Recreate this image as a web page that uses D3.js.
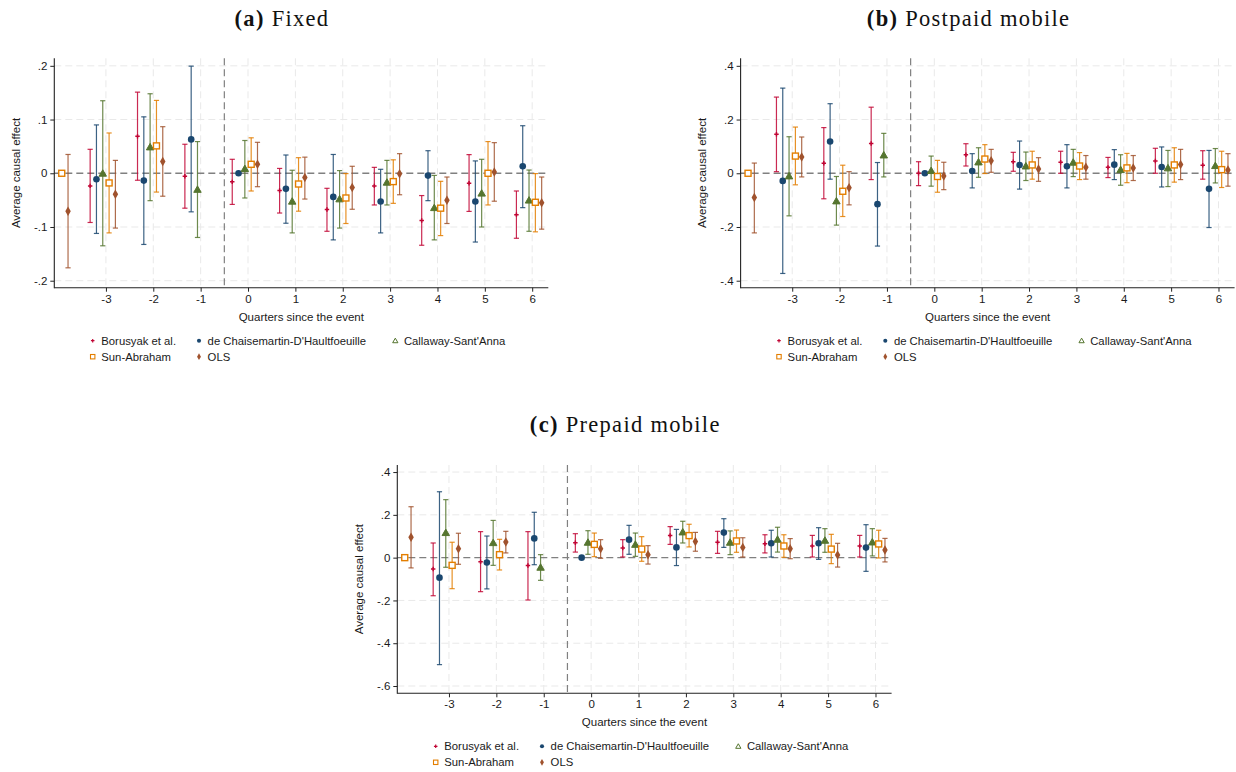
<!DOCTYPE html>
<html>
<head>
<meta charset="utf-8">
<script src="https://cdn.jsdelivr.net/npm/d3@7/dist/d3.min.js"></script>
<style>
  html, body { margin: 0; padding: 0; background: #ffffff; }
  svg { display: block; }
  .tick-label, .axis-title, .legend-label { font-family: "Liberation Sans", Arial, sans-serif; fill: #1a1a1a; }
  .panel-title { font-family: "Liberation Serif", "Times New Roman", serif; fill: #111; }
</style>
</head>
<body>
<svg id="chart" width="1236" height="772"></svg>
<script>
// Event time (quarters since the event) and estimator names
const periods = [-4, -3, -2, -1, 0, 1, 2, 3, 4, 5, 6];
const xTicks = [-3, -2, -1, 0, 1, 2, 3, 4, 5, 6];
const estimators = ["Borusyak et al.", "de Chaisemartin-D'Haultfoeuille", "Callaway-Sant'Anna", "Sun-Abraham", "OLS"];
const estimatorOffsets = [-0.333, -0.2, -0.067, 0.067, 0.2];
const estimatorColors = ["#c10534", "#1a476f", "#55752f", "#e37e00", "#a0522d"];

// Each entry: [estimate, lower 95% bound, upper 95% bound] per period, null if not estimated
// (a) Fixed
const fixedBorusyak = [null, [-0.0235, -0.0916, 0.0446], [0.0687, -0.013, 0.151], [-0.0056, -0.065, 0.054], [-0.016, -0.058, 0.026], [-0.032, -0.074, 0.009], [-0.0675, -0.108, -0.028], [-0.0235, -0.059, 0.011], [-0.088, -0.134, -0.0415], [-0.0186, -0.071, 0.0347], [-0.077, -0.121, -0.033]];
const fixedDCDH = [null, [-0.011, -0.112, 0.090], [-0.0136, -0.1325, 0.105], [0.063, -0.0718, 0.1994], [0, 0, 0], [-0.029, -0.093, 0.034], [-0.044, -0.124, 0.035], [-0.0526, -0.111, 0.0074], [-0.0043, -0.051, 0.042], [-0.0526, -0.128, 0.023], [0.013, -0.064, 0.0885]];
const fixedCS = [null, [0, -0.135, 0.135], [0.049, -0.051, 0.148], [-0.030, -0.1195, 0.059], [0.0087, -0.046, 0.061], [-0.052, -0.111, 0.0056], [-0.0477, -0.102, 0.005], [-0.0167, -0.059, 0.024], [-0.064, -0.124, -0.004], [-0.037, -0.100, 0.026], [-0.050, -0.108, 0.006]];
const fixedSA = [[0, 0, 0], [-0.018, -0.111, 0.075], [0.051, -0.035, 0.1356], null, [0.0167, -0.033, 0.066], [-0.020, -0.0706, 0.029], [-0.046, -0.0935, -0.0006], [-0.0155, -0.056, 0.025], [-0.065, -0.116, -0.015], [0, -0.059, 0.059], [-0.054, -0.109, -0.0006]];
const fixedOLS = [[-0.0706, -0.176, 0.035], [-0.039, -0.102, 0.024], [0.0217, -0.0427, 0.0867], null, [0.0167, -0.025, 0.0576], [-0.008, -0.048, 0.030], [-0.0266, -0.067, 0.013], [-0.001, -0.040, 0.0365], [-0.050, -0.0935, -0.007], [0.0025, -0.052, 0.057], [-0.055, -0.104, -0.007]];

// (b) Postpaid mobile
const postpaidBorusyak = [null, [0.145, 0.006, 0.2836], [0.037, -0.095, 0.170], [0.111, -0.0235, 0.246], [0, -0.046, 0.043], [0.069, 0.027, 0.110], [0.043, 0.0074, 0.078], [0.041, 0.0, 0.082], [0.022, -0.016, 0.059], [0.046, 0.0, 0.093], [0.030, -0.022, 0.084]];
const postpaidDCDH = [null, [-0.0285, -0.373, 0.317], [0.118, -0.022, 0.259], [-0.115, -0.271, 0.040], [0, 0, 0], [0.0087, -0.0545, 0.073], [0.031, -0.059, 0.120], [0.026, -0.0545, 0.1065], [0.032, -0.0235, 0.088], [0.0235, -0.051, 0.098], [-0.058, -0.202, 0.085]];
const postpaidCS = [null, [-0.010, -0.1585, 0.136], [-0.103, -0.193, -0.012], [0.068, -0.0136, 0.1486], [0.010, -0.048, 0.064], [0.042, -0.015, 0.095], [0.027, -0.027, 0.079], [0.041, -0.0124, 0.089], [0.0136, -0.0446, 0.069], [0.020, -0.0495, 0.085], [0.0285, -0.036, 0.092]];
const postpaidSA = [[0, 0, 0], [0.064, -0.043, 0.172], [-0.067, -0.161, 0.030], null, [-0.012, -0.0706, 0.048], [0.053, -0.001, 0.1065], [0.031, -0.022, 0.082], [0.027, -0.0235, 0.077], [0.020, -0.035, 0.074], [0.031, -0.033, 0.095], [0.0136, -0.053, 0.082]];
const postpaidOLS = [[-0.090, -0.222, 0.038], [0.061, -0.0136, 0.135], [-0.054, -0.1176, 0.006], null, [-0.010, -0.061, 0.041], [0.047, 0.0037, 0.089], [0.016, -0.030, 0.058], [0.022, -0.022, 0.066], [0.020, -0.027, 0.066], [0.033, -0.0235, 0.089], [0.0124, -0.048, 0.073]];

// (c) Prepaid mobile
const prepaidBorusyak = [null, [-0.053, -0.178, 0.0685], [-0.019, -0.159, 0.1215], [-0.037, -0.198, 0.1215], [0.070, 0.026, 0.112], [0.045, 0.003, 0.084], [0.104, 0.062, 0.145], [0.0717, 0.020, 0.123], [0.065, 0.022, 0.107], [0.0545, 0.003, 0.104], [0.0545, 0.003, 0.104]];
const prepaidDCDH = [null, [-0.0935, -0.500, 0.308], [-0.023, -0.146, 0.101], [0.090, -0.033, 0.212], [0, 0, 0], [0.084, 0.0156, 0.151], [0.048, -0.037, 0.132], [0.117, 0.048, 0.182], [0.067, 0.003, 0.128], [0.067, -0.008, 0.140], [0.047, -0.064, 0.154]];
const prepaidCS = [null, [0.117, -0.045, 0.271], [0.070, -0.036, 0.174], [-0.045, -0.106, 0.014], [0.0717, 0.0156, 0.126], [0.062, 0.006, 0.115], [0.120, 0.0685, 0.170], [0.0717, 0.014, 0.125], [0.0857, 0.026, 0.142], [0.081, 0.025, 0.1355], [0.073, 0.008, 0.1355]];
const prepaidSA = [[0, 0, 0], [-0.036, -0.145, 0.072], [0.014, -0.0576, 0.0857], null, [0.062, 0.0047, 0.115], [0.040, -0.017, 0.098], [0.103, 0.050, 0.156], [0.078, 0.025, 0.129], [0.0545, 0.0016, 0.107], [0.040, -0.028, 0.109], [0.064, -0.0016, 0.128]];
const prepaidOLS = [[0.095, -0.048, 0.238], [0.042, -0.031, 0.114], [0.073, 0.022, 0.123], null, [0.042, -0.003, 0.084], [0.014, -0.030, 0.056], [0.075, 0.030, 0.118], [0.048, 0.003, 0.093], [0.042, -0.005, 0.089], [0.0125, -0.044, 0.067], [0.036, -0.020, 0.090]];

const fixedTicks = [-0.2, -0.1, 0, 0.1, 0.2];
const postpaidTicks = [-0.4, -0.2, 0, 0.2, 0.4];
const prepaidTicks = [-0.6, -0.4, -0.2, 0, 0.2, 0.4];

const panels = [
  { tag: "(a)", name: " Fixed", series: [fixedBorusyak, fixedDCDH, fixedCS, fixedSA, fixedOLS],
    yDomain: [-0.213, 0.214], yTicks: fixedTicks,
    left: 54.3, right: 548.3, top: 58.3, bottom: 287.7, titleX: 282, titleY: 26 },
  { tag: "(b)", name: " Postpaid mobile", series: [postpaidBorusyak, postpaidDCDH, postpaidCS, postpaidSA, postpaidOLS],
    yDomain: [-0.426, 0.428], yTicks: postpaidTicks,
    left: 740.6, right: 1234.6, top: 58.3, bottom: 287.7, titleX: 968.6, titleY: 26 },
  { tag: "(c)", name: " Prepaid mobile", series: [prepaidBorusyak, prepaidDCDH, prepaidCS, prepaidSA, prepaidOLS],
    yDomain: [-0.634, 0.433], yTicks: prepaidTicks,
    left: 397.3, right: 891.6, top: 465, bottom: 693.3, titleX: 625.3, titleY: 431.5 }
];

const svg = d3.select("#chart");
svg.append("rect").attr("width", 1236).attr("height", 772).attr("fill", "#ffffff");

// Stata-style labels: ".2", "-.1", plain hyphen minus
const fmtY = d => d === 0 ? "0" : d3.format(".1f")(d).replace("\u2212", "-").replace("0.", ".");
const fmtX = d => String(d);

// Marker shapes for each estimator
function drawMarker(g, i, x, y, small) {
  const c = estimatorColors[i];
  const s = small ? 0.62 : 1;
  if (i === 0) {
    g.append("path").attr("transform", `translate(${x},${y})`)
      .attr("d", d3.symbol(d3.symbolCross, small ? 7 : 11)())
      .attr("fill", c);
  } else if (i === 1) {
    g.append("circle").attr("cx", x).attr("cy", y).attr("r", 3.3 * s).attr("fill", c);
  } else if (i === 2) {
    g.append("path").attr("transform", `translate(${x},${y + (small ? 0.5 : 0.8)})`)
      .attr("d", d3.symbol(d3.symbolTriangle, small ? 12 : 24)())
      .attr("fill", small ? "#ffffff" : c).attr("stroke", c).attr("stroke-width", 1);
  } else if (i === 3) {
    const h = small ? 2.2 : 3;
    g.append("rect").attr("x", x - h).attr("y", y - h).attr("width", 2 * h).attr("height", 2 * h)
      .attr("fill", "#ffffff").attr("stroke", c).attr("stroke-width", small ? 1.1 : 1.4);
  } else {
    g.append("path").attr("transform", `translate(${x},${y})`)
      .attr("d", d3.symbol(d3.symbolDiamond, small ? 13 : 26)())
      .attr("fill", c);
  }
}

panels.forEach(p => {
  const g = svg.append("g");
  const x = d3.scaleLinear().domain([-4.09, 6.34]).range([p.left, p.right]);
  const y = d3.scaleLinear().domain(p.yDomain).range([p.bottom, p.top]);

  // Light dashed grid
  g.selectAll(".hgrid").data(p.yTicks.filter(t => t !== 0)).join("line")
    .attr("x1", p.left).attr("x2", p.right)
    .attr("y1", d => y(d)).attr("y2", d => y(d))
    .attr("stroke", "#e9e9e9").attr("stroke-width", 1).attr("stroke-dasharray", "7,4");
  g.selectAll(".vgrid").data(xTicks).join("line")
    .attr("x1", d => x(d)).attr("x2", d => x(d))
    .attr("y1", p.top).attr("y2", p.bottom)
    .attr("stroke", "#e9e9e9").attr("stroke-width", 1).attr("stroke-dasharray", "7,4");

  // Zero reference and event marker
  g.append("line").attr("x1", p.left).attr("x2", p.right)
    .attr("y1", y(0)).attr("y2", y(0))
    .attr("stroke", "#808080").attr("stroke-width", 1.3).attr("stroke-dasharray", "7,4");
  g.append("line").attr("x1", x(-0.5)).attr("x2", x(-0.5))
    .attr("y1", p.top).attr("y2", p.bottom)
    .attr("stroke", "#808080").attr("stroke-width", 1.2).attr("stroke-dasharray", "7,4");

  // Axes
  const yAxis = d3.axisLeft(y).tickValues(p.yTicks).tickFormat(fmtY).tickSize(4).tickPadding(3);
  const ya = g.append("g").attr("transform", `translate(${p.left},0)`).call(yAxis);
  const xAxis = d3.axisBottom(x).tickValues(xTicks).tickFormat(fmtX).tickSize(4).tickPadding(3);
  const xa = g.append("g").attr("transform", `translate(0,${p.bottom})`).call(xAxis);
  [ya, xa].forEach(a => {
    a.select(".domain").remove();
    a.selectAll(".tick line").attr("stroke", "#222");
    a.selectAll(".tick text").attr("class", "tick-label").attr("font-size", 11.5)
      .attr("font-family", "Liberation Sans, Arial, sans-serif").attr("fill", "#1a1a1a");
  });
  g.append("line").attr("x1", p.left).attr("x2", p.left).attr("y1", p.top).attr("y2", p.bottom + 0.5)
    .attr("stroke", "#222").attr("stroke-width", 1.1);
  g.append("line").attr("x1", p.left).attr("x2", p.right).attr("y1", p.bottom).attr("y2", p.bottom)
    .attr("stroke", "#222").attr("stroke-width", 1.1);

  // Axis titles
  g.append("text").attr("class", "axis-title").attr("font-size", 11.5)
    .attr("transform", `translate(${p.left - 37.6},${(p.top + p.bottom) / 2}) rotate(-90)`)
    .attr("text-anchor", "middle").attr("dominant-baseline", "middle")
    .text("Average causal effect");
  g.append("text").attr("class", "axis-title").attr("font-size", 11.5)
    .attr("x", (p.left + p.right) / 2).attr("y", p.bottom + 33)
    .attr("text-anchor", "middle").text("Quarters since the event");

  // Confidence intervals, then point estimates
  p.series.forEach((vals, i) => {
    const c = estimatorColors[i];
    const pts = vals.map((v, k) => v ? { t: periods[k], est: v[0], lo: v[1], hi: v[2] } : null).filter(Boolean);
    const sg = g.append("g");
    pts.filter(d => d.hi > d.lo).forEach(d => {
      const cx = x(d.t + estimatorOffsets[i]);
      const bar = sg.append("g").attr("stroke", c).attr("stroke-width", 1.2).attr("stroke-opacity", 0.85);
      bar.append("line").attr("x1", cx).attr("x2", cx).attr("y1", y(d.lo)).attr("y2", y(d.hi));
      bar.append("line").attr("x1", cx - 2.6).attr("x2", cx + 2.6).attr("y1", y(d.lo)).attr("y2", y(d.lo));
      bar.append("line").attr("x1", cx - 2.6).attr("x2", cx + 2.6).attr("y1", y(d.hi)).attr("y2", y(d.hi));
    });
    pts.forEach(d => drawMarker(sg, i, x(d.t + estimatorOffsets[i]), y(d.est), false));
  });

  // Panel title
  const tt = svg.append("text").attr("class", "panel-title").attr("font-size", 22.5)
    .attr("x", p.titleX).attr("y", p.titleY).attr("text-anchor", "middle")
    .attr("letter-spacing", 1.3);
  tt.append("tspan").attr("font-weight", "bold").text(p.tag);
  tt.append("tspan").text(p.name);

  // Legend
  const lg = svg.append("g");
  const lx = p.left + 38.4, ly = p.bottom + 53;
  const slots = [[0, 0], [106.3, 0], [302.6, 0], [0, 16], [106.3, 16]];
  estimators.forEach((name, i) => {
    const mx = lx + slots[i][0], my = ly + slots[i][1];
    drawMarker(lg, i, mx, my, true);
    lg.append("text").attr("class", "legend-label").attr("font-size", 11.3)
      .attr("x", mx + 8.6).attr("y", my).attr("dominant-baseline", "central").text(name);
  });
});
</script>
</body>
</html>
